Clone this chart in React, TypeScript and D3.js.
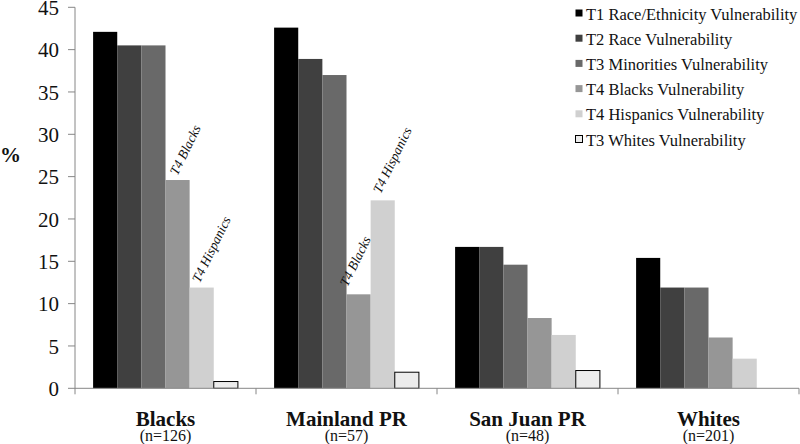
import React from 'react';
import * as d3 from 'd3';

// groups along the x axis
const groups = ['Blacks', 'Mainland PR', 'San Juan PR', 'Whites'];
const groupSizes = ['(n=126)', '(n=57)', '(n=48)', '(n=201)'];

// series (legend order)
const seriesNames = [
    'T1 Race/Ethnicity Vulnerability',
    'T2 Race Vulnerability',
    'T3 Minorities Vulnerability',
    'T4 Blacks Vulnerability',
    'T4 Hispanics Vulnerability',
    'T3 Whites Vulnerability',
];
const seriesColors = ['#000000', '#404040', '#696969', '#969696', '#d0d0d0', '#ececec'];

// percentages, one array per series, in group order
const t1RaceEthnicity = [42.1, 42.6, 16.7, 15.4];
const t2Race = [40.5, 38.9, 16.7, 11.9];
const t3Minorities = [40.5, 37.0, 14.6, 11.9];
const t4Blacks = [24.6, 11.1, 8.3, 6.0];
const t4Hispanics = [11.9, 22.2, 6.3, 3.5];
const t3Whites = [0.8, 1.9, 2.1, null];

const yTicks = [0, 5, 10, 15, 20, 25, 30, 35, 40, 45];

// italic labels written over some bars
const annotations = [
    {group: 'Blacks', series: 3, label: 'T4 Blacks'},
    {group: 'Blacks', series: 4, label: 'T4 Hispanics'},
    {group: 'Mainland PR', series: 3, label: 'T4 Blacks'},
    {group: 'Mainland PR', series: 4, label: 'T4 Hispanics'},
];

const width = 800, height = 444;
const margin = {left: 75, right: 1, top: 7.3, bottom: 55.7};
const font = 'Liberation Serif';
const axisColor = '#868686';
const ink = '#111';

export default function App(){

    const allSeries = [t1RaceEthnicity, t2Race, t3Minorities, t4Blacks, t4Hispanics, t3Whites];
    const rows = [];
    groups.forEach((g, gi) => {
        allSeries.forEach((s, si) => {
            if(s[gi] !== null) rows.push({group: g, series: si, value: s[gi]});
        });
    });

    /** scales */
    const x0 = d3.scaleBand()
        .domain(groups)
        .range([margin.left, width - margin.right]);
    const bw = x0.bandwidth();
    const x1 = d3.scaleBand()
        .domain(d3.range(seriesNames.length))
        .range([bw * 0.1, bw * 0.9]);
    const y = d3.scaleLinear()
        .domain([0, 45])
        .range([height - margin.bottom, margin.top]);

    const boundaries = groups.map(g => x0(g) + bw);
    // small nudges so the slanted labels sit like the original
    const nudge = [[0, -4], [-2, -4], [-11, -7], [-2, -6]];

    return(
        <svg width={width} height={height} fontFamily={font}
            style={{position: 'absolute', left: 0, top: 0, background: '#fff'}}>
            {/* bars */}
            <g>
                {rows.map((d, i) => (
                    <rect key={i}
                        x={x0(d.group) + x1(d.series)}
                        width={x1.bandwidth()}
                        y={y(d.value)}
                        height={y(0) - y(d.value)}
                        fill={seriesColors[d.series]}
                        stroke={d.series === 5 ? '#000' : 'none'}
                        strokeWidth={1}/>
                ))}
            </g>

            {/* y axis */}
            <g>
                <line x1={margin.left} x2={margin.left} y1={y(45)} y2={y(0) + 6} stroke={axisColor}/>
                {yTicks.map(t => (
                    <g key={t}>
                        <line x1={margin.left - 7} x2={margin.left} y1={y(t)} y2={y(t)} stroke={axisColor}/>
                        <text x={margin.left - 16} y={y(t)} dy="0.36em" textAnchor="end" fill={ink}
                            style={{fontFamily: font, fontSize: '21px'}}>{t}</text>
                    </g>
                ))}
                <text x={0} y={162} fill={ink}
                    style={{fontFamily: font, fontSize: '21px', fontWeight: 'bold'}}>%</text>
            </g>

            {/* x axis */}
            <g>
                <line x1={margin.left} x2={width - margin.right} y1={y(0)} y2={y(0)} stroke={axisColor}/>
                {boundaries.map((b, i) => (
                    <line key={i} x1={b} x2={b} y1={y(0)} y2={y(0) + 6} stroke={axisColor}/>
                ))}
                {groups.map((g, i) => (
                    <g key={g}>
                        <text x={x0(g) + bw / 2} y={426} textAnchor="middle" fill={ink}
                            style={{fontFamily: font, fontSize: '21px', fontWeight: 'bold'}}>{g}</text>
                        <text x={x0(g) + bw / 2} y={441} textAnchor="middle" fill={ink}
                            style={{fontFamily: font, fontSize: '16px'}}>{groupSizes[i]}</text>
                    </g>
                ))}
            </g>

            {/* slanted labels over bars */}
            <g>
                {annotations.map((d, i) => {
                    const gi = groups.indexOf(d.group);
                    const v = allSeries[d.series][gi];
                    const cx = x0(d.group) + x1(d.series) + x1.bandwidth() / 2 + nudge[i][0];
                    const cy = y(v) + nudge[i][1];
                    return (
                        <text key={i} transform={`translate(${cx},${cy}) rotate(-64)`} fill={ink}
                            style={{fontFamily: font, fontSize: '13.5px', fontStyle: 'italic'}}>{d.label}</text>
                    );
                })}
            </g>

            {/* legend */}
            <g transform="translate(575, 0)">
                {seriesNames.map((s, i) => (
                    <g key={s} transform={`translate(0, ${14 + i * 25.2})`}>
                        <rect x={0.5} y={-4.5} width={7} height={7} fill={seriesColors[i]}
                            stroke={i === 5 ? '#000' : 'none'}/>
                        <text x={11} y={5.5} fill={ink}
                            style={{fontFamily: font, fontSize: '16.5px'}}>{s}</text>
                    </g>
                ))}
            </g>
        </svg>
    );
}
